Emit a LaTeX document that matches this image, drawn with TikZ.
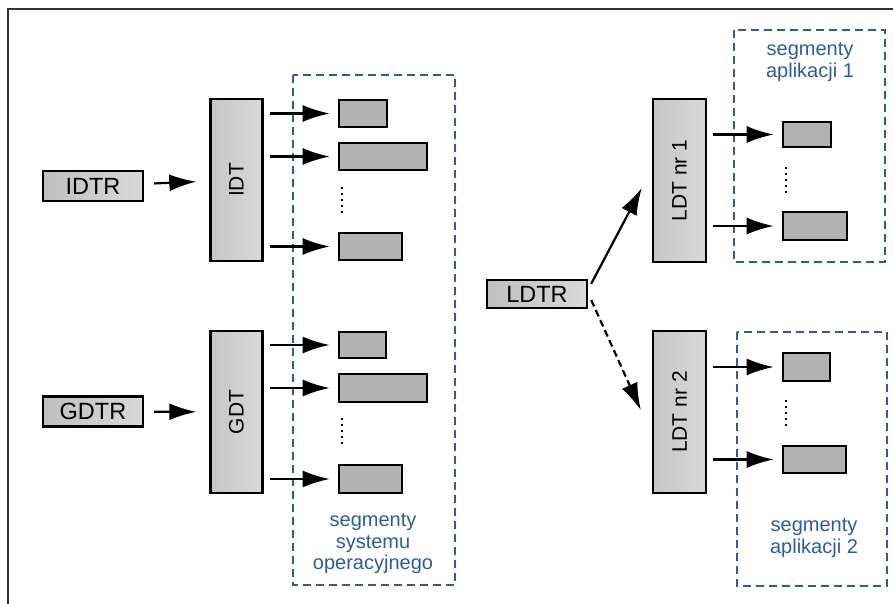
\documentclass[tikz,border=0pt]{standalone}
\usepackage{fontspec}
\setmainfont{Liberation Sans}
\usepackage{tikz}
\usetikzlibrary{arrows.meta,positioning}
\definecolor{segblue}{HTML}{2B5C9E}

\begin{document}
\begin{tikzpicture}[x=1pt,y=-1pt,inner sep=0pt,
    reg/.style={draw,line width=2.4pt,minimum height=30pt,minimum width=100pt,
      left color=gray!50,middle color=white,right color=gray!30,
      font=\fontsize{23.5}{25}\selectfont},
    table/.style={draw,line width=2.4pt,minimum width=52pt,minimum height=162pt,
      left color=gray!45,middle color=white,right color=gray!30,
      font=\fontsize{21}{23}\selectfont},
    seg/.style={draw,line width=2.6pt,fill=black!30,minimum height=27pt},
    area/.style={draw=segblue,line width=2.4pt,dash pattern=on 8pt off 5pt},
    note/.style={text=segblue,align=center,font=\fontsize{20}{21.5}\selectfont},
    big/.style={-{Latex[length=27pt,width=17pt]},line width=2.2pt},
    segarrow/.style={big,shorten <=6pt,shorten >=8pt},
    dots/.style={line width=2pt,dash pattern=on 2pt off 4pt}]
   \useasboundingbox (0,0) rectangle (893,604);
   \draw[line width=1.6pt,black!80] (8,604) -- (8,9) -- (893,9);

   % selectors and tables
   \node[reg] (IDTR) at (93,186) {IDTR};
   \node[reg] (GDTR) at (93,411.5) {GDTR};
   \node[reg,minimum height=28pt] (LDTR) at (537,294) {LDTR};
   \node[table] (IDT) at (236.5,180) {\rotatebox{90}{IDT}};
   \node[table] (GDT) at (236.5,412) {\rotatebox{90}{GDT}};
   \node[table,minimum width=53pt,minimum height=163pt] (LDT1) at (679.5,180.5) {\rotatebox{90}{LDT nr 1}};
   \node[table,minimum width=53pt] (LDT2) at (679.5,412) {\rotatebox{90}{LDT nr 2}};

   % segment areas
   \draw[area] (293,75) rectangle (455,585);
   \draw[area] (734,30) rectangle (885,262);
   \draw[area] (737,332) rectangle (887,586);
   \node[note] (os) at (373,544) {segmenty\\systemu\\operacyjnego};
   \node[note] (app1) at (810,62) {segmenty\\aplikacji 1};
   \node[note] (app2) at (814,538) {segmenty\\aplikacji 2};

   % segments
   \node[seg,minimum width=48pt] (o1) at (363,113.5) {};
   \node[seg,minimum width=88pt] (o2) at (383,156.5) {};
   \node[seg,minimum width=63pt] (o3) at (370.5,246.5) {};
   \node[seg,minimum width=47pt,minimum height=26pt] (g1) at (362.5,345) {};
   \node[seg,minimum width=88pt,minimum height=28pt] (g2) at (383,388) {};
   \node[seg,minimum width=63pt,minimum height=28pt] (g3) at (370.5,479) {};
   \node[seg,minimum width=48pt,minimum height=25pt] (a1) at (807,134.5) {};
   \node[seg,minimum width=64pt,minimum height=28pt] (a2) at (815,226) {};
   \node[seg,minimum width=47pt,minimum height=28pt] (b1) at (806.5,367) {};
   \node[seg,minimum width=63pt] (b2) at (814.5,459.5) {};
   \draw[dots] (342,187) -- (342,216);
   \draw[dots] (342,418) -- (342,447);
   \draw[dots] (786,167) -- (786,194);
   \draw[dots] (786,400) -- (786,428);

   % arrows
   \draw[big,shorten <=10pt,shorten >=13pt] (IDTR) -- (IDT);
   \draw[big,shorten <=10pt,shorten >=13pt] (GDTR) -- (GDT);
   \foreach \t/\s in {IDT/o1,IDT/o2,IDT/o3,GDT/g1,GDT/g2,GDT/g3,LDT1/a1,LDT1/a2,LDT2/b1,LDT2/b2}
     \draw[segarrow] (\t.east |- \s) -- (\s.west);
   \draw[big] ([xshift=3pt,yshift=-5pt]LDTR.north east) -- ([xshift=-10pt,yshift=-7.5pt]LDT1.west);
   \draw[big,dash pattern=on 7pt off 4pt] ([xshift=3pt,yshift=-6pt]LDTR.east) -- ([xshift=-11pt,yshift=2pt]LDT2.west);
\end{tikzpicture}
\end{document}
